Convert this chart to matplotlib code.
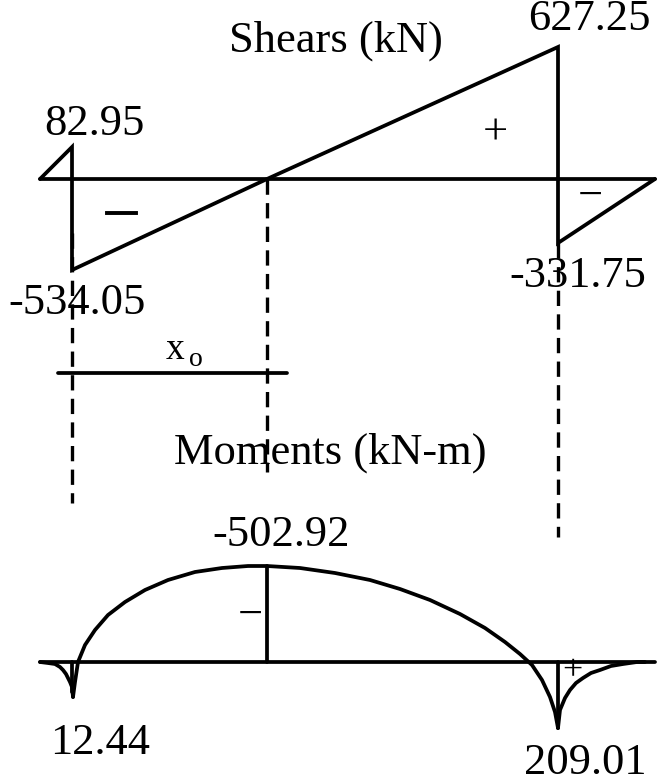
import matplotlib
matplotlib.use("Agg")
import matplotlib.pyplot as plt

plt.rcParams['lines.scale_dashes'] = False
FONT = ['Liberation Serif', 'DejaVu Serif']

# ---- data (diagram coordinates, not to scale, as drawn in the reference) ----
# beam stations along the drawing
x_left_end, x_support_a, x_zero, x_support_b, x_right_end = 40, 72, 267, 558, 655

# shear diagram outline
shear_x = [40, 72, 72, 267, 558, 558, 655]
shear_y = [179, 147, 270, 179, 47, 243, 179]
shear_base = 179

# moment diagram outline
mom_left_x = [40, 48, 55, 60, 63, 66, 68, 70, 72, 73]
mom_left_y = [662, 663, 664, 667, 670, 674, 678, 682, 687, 697]
mom_main_x = [73, 75, 78, 85, 95, 108, 125, 145, 168, 195, 222, 248, 267,
              300, 335, 370, 400, 430, 460, 485, 505, 520, 532, 542, 550, 555, 558]
mom_main_y = [697, 682, 662, 645, 630, 615, 602, 590, 580, 572, 568, 566, 566,
              568, 573, 580, 589, 600, 614, 628, 642, 654, 665, 680, 697, 712, 728]
mom_right_x = [558, 560, 565, 570, 576, 583, 591, 600, 611, 623, 637, 645]
mom_right_y = [728, 710, 698, 690, 683, 678, 673, 670, 666, 664, 662, 662]
mom_base = 662

# value labels
shear_title = "Shears (kN)"
moment_title = "Moments (kN-m)"
shear_labels = ["82.95", "-534.05", "627.25", "-331.75"]
moment_labels = ["-502.92", "12.44", "209.01"]

W, H = 659, 783
fig = plt.figure(figsize=(W / 100, H / 100), dpi=100)
ax = fig.add_axes([0, 0, 1, 1])
ax.set_xlim(0, W)
ax.set_ylim(H, 0)
ax.axis('off')

LW = 2.7
k = dict(color='black', lw=LW, solid_capstyle='round', solid_joinstyle='round')

# shear
ax.plot([x_left_end, x_right_end], [shear_base, shear_base], **k)
ax.plot(shear_x, shear_y, **dict(k, solid_joinstyle='miter'))

# dashed verticals
dk = dict(color='black', lw=2.4, linestyle=(0, (11, 6)))
ax.plot([x_support_a, x_support_a], [233, 503], **dk)
ax.plot([x_zero, x_zero], [179, 472], **dk)
ax.plot([x_support_b, x_support_b], [243, 537], **dk)

# x_o dimension line
ax.plot([58, 287], [373, 373], **k)

# moment
ax.plot([x_left_end, x_right_end], [mom_base, mom_base], **k)
ax.plot(mom_left_x, mom_left_y, **k)
ax.plot(mom_main_x, mom_main_y, **k)
ax.plot(mom_right_x, mom_right_y, **k)
ax.plot([x_support_a, x_support_a], [mom_base, 692], **k)
ax.plot([x_zero, x_zero], [566, mom_base], **k)
ax.plot([x_support_b, x_support_b], [mom_base, 728], **k)

FS = 32
t = dict(family=FONT, fontsize=FS, ha='center', va='center', color='black')
ax.text(336, 41, shear_title, **t)
ax.text(94, 124, shear_labels[0], **t)
ax.text(77, 303, shear_labels[1], **t)
ax.text(589, 19, shear_labels[2], **t)
ax.text(578, 276, shear_labels[3], **t)
ax.text(330, 453, moment_title, **t)
ax.text(281, 535, moment_labels[0], **t)
ax.text(100, 743, moment_labels[1], **t)
ax.text(585, 763, moment_labels[2], **t)

# sign markers
ax.text(495, 134, "+", **t)
ax.plot([107, 136], [213, 213], color='black', lw=2.8)
ax.text(590, 197, "\u2212", **t)
ax.text(250, 616, "\u2212", **t)
ax.text(572, 672, "+", **dict(t, fontsize=26))

# x_o label
ax.text(175, 350, "x", family=FONT, fontsize=27, ha='center', va='center')
ax.text(196, 359, "o", family=FONT, fontsize=20, ha='center', va='center')

fig.savefig("out.png", dpi=100)
